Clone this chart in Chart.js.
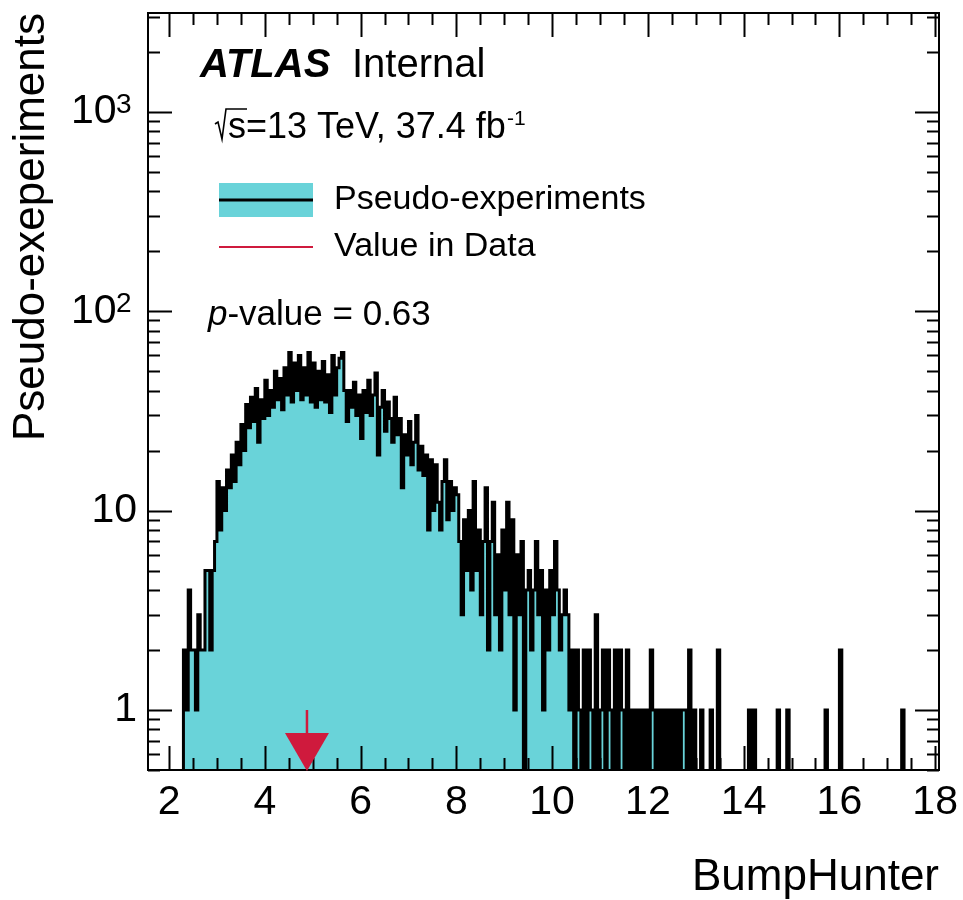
<!DOCTYPE html>
<html>
<head>
<meta charset="utf-8">
<script src="https://cdn.jsdelivr.net/npm/chart.js@4.4.1/dist/chart.umd.min.js"></script>
<style>
  body { margin: 0; background: #fff; }
  #wrap { width: 963px; height: 900px; }
</style>
</head>
<body>
<div id="wrap"><canvas id="graph" width="963" height="900"></canvas></div>
<script>
// histogram binning (left edge of first bin, bin width)
var binStart = 2.0;
var binWidth = 0.05;

// pseudo-experiment counts per bin, one row per unit of x (2.00 .. 17.95)
var counts = [
  0, 0, 0, 0, 0, 0, 2, 1, 4, 2, 2, 1, 3, 2, 2, 5, 5, 2, 5, 7,
  14, 8, 13, 10, 16, 13, 19, 14, 22, 17, 27, 20, 34, 26, 37, 28, 41, 22, 36, 29,
  45, 30, 40, 33, 50, 36, 46, 32, 52, 38, 62, 35, 55, 40, 60, 36, 52, 38, 62, 35,
  55, 33, 50, 36, 56, 35, 48, 31, 60, 38, 52, 58, 62, 40, 28, 40, 33, 44, 30, 38,
  23, 40, 31, 45, 30, 38, 49, 19, 33, 40, 25, 35, 29, 22, 37, 24, 29, 13, 24, 19,
  28, 17, 22, 30, 16, 21, 15, 19, 8, 18, 10, 17, 11, 8, 14, 18, 9, 14, 10, 13,
  12, 7, 3, 9, 5, 10, 4, 14, 5, 8, 3, 7, 13, 2, 7, 11, 3, 6, 2, 8,
  4, 11, 3, 9, 1, 6, 3, 7, 0, 4, 5, 2, 4, 7, 3, 5, 1, 4, 2, 5,
  3, 7, 4, 2, 3, 4, 3, 1, 2, 0, 2, 1, 0, 2, 0, 2, 1, 0, 3, 0,
  1, 2, 0, 2, 1, 0, 2, 0, 2, 1, 0, 2, 0, 1, 0, 1, 0, 1, 0, 1,
  0, 2, 1, 0, 1, 0, 1, 0, 1, 0, 1, 0, 1, 0, 1, 1, 0, 2, 0, 1,
  0, 0, 1, 0, 0, 0, 1, 0, 0, 2, 0, 0, 0, 0, 0, 0, 0, 0, 0, 0,
  0, 0, 1, 0, 1, 0, 0, 0, 0, 0, 0, 0, 0, 0, 1, 0, 0, 0, 1, 0,
  0, 0, 0, 0, 0, 0, 0, 0, 0, 0, 0, 0, 0, 0, 1, 0, 0, 0, 0, 0,
  2, 0, 0, 0, 0, 0, 0, 0, 0, 0, 0, 0, 0, 0, 0, 0, 0, 0, 0, 0,
  0, 0, 0, 0, 0, 0, 1, 0, 0, 0, 0, 0, 0, 0, 0, 0, 0, 0, 0, 0
];

var dataValue = [4.88];   // BumpHunter value observed in data
var pValue = ['0.63'];

var xTickLabels = [2, 4, 6, 8, 10, 12, 14, 16, 18];
var yTickValues = [1, 10, 100, 1000];
var yTickText = ['1', '10', '10\u2002', '10\u2002'];
var yTickExp = ['', '', '2', '3'];

var cyan = '#69d3d9';
var red = '#cf1a3d';
var FONT = '"Liberation Sans", Arial, Helvetica, sans-serif';

Chart.defaults.font.family = FONT;
Chart.defaults.color = '#000';

// empty bins sit below the log axis, so the outline drops out of the frame there
var points = counts.map(function (c, i) {
  return { x: binStart + i * binWidth, y: c > 0 ? c : 0.01 };
});
points.push({ x: binStart + counts.length * binWidth, y: 0.01 });

// ROOT style frame, inward ticks on four sides, arrow and texts
var atlasDecor = {
  id: 'atlasDecor',
  afterDatasetsDraw: function (chart) {
    var ctx = chart.ctx, a = chart.chartArea;
    var xs = chart.scales.x, ys = chart.scales.y;
    ctx.save();
    ctx.strokeStyle = '#000';
    ctx.lineWidth = 2;
    ctx.beginPath();
    xs.ticks.forEach(function (t) {
      var px = Math.round(xs.getPixelForValue(t.value)) + 0.5;
      var len = (t.value % 2 === 0) ? 24 : 12;
      ctx.moveTo(px, a.bottom); ctx.lineTo(px, a.bottom - len);
      ctx.moveTo(px, a.top); ctx.lineTo(px, a.top + len);
    });
    ys.ticks.forEach(function (t) {
      var py = Math.round(ys.getPixelForValue(t.value)) + 0.5;
      var len = yTickValues.indexOf(t.value) >= 0 ? 24 : 12;
      ctx.moveTo(a.left, py); ctx.lineTo(a.left + len, py);
      ctx.moveTo(a.right, py); ctx.lineTo(a.right - len, py);
    });
    ctx.stroke();
    ctx.strokeRect(a.left, a.top, a.right - a.left, a.bottom - a.top);

    // exponents of the y tick labels
    ctx.fillStyle = '#000';
    ctx.font = '28px ' + FONT;
    ctx.textAlign = 'left';
    ctx.textBaseline = 'alphabetic';
    yTickValues.forEach(function (v, i) {
      if (yTickExp[i]) ctx.fillText(yTickExp[i], a.left - 32, ys.getPixelForValue(v) + 1);
    });

    // arrow at the value in data
    var ax = xs.getPixelForValue(dataValue[0]);
    var ay = ys.getPixelForValue(1);
    var tip = a.bottom + 1;
    ctx.strokeStyle = red;
    ctx.fillStyle = red;
    ctx.lineWidth = 2.5;
    ctx.beginPath();
    ctx.moveTo(ax, ay); ctx.lineTo(ax, tip - 37);
    ctx.stroke();
    ctx.beginPath();
    ctx.moveTo(ax - 22, tip - 38);
    ctx.lineTo(ax + 22, tip - 38);
    ctx.lineTo(ax, tip);
    ctx.closePath();
    ctx.fill();
    ctx.restore();
  },
  afterDraw: function (chart) {
    var ctx = chart.ctx;
    ctx.save();
    ctx.fillStyle = '#000';
    ctx.textBaseline = 'alphabetic';
    ctx.textAlign = 'left';

    ctx.font = 'italic bold 40px ' + FONT;
    ctx.fillText('ATLAS', 200, 77);
    ctx.font = '40px ' + FONT;
    ctx.fillText('Internal', 352, 77);

    // sqrt(s)=13 TeV, 37.4 fb^-1
    ctx.strokeStyle = '#000';
    ctx.lineWidth = 1.6;
    ctx.beginPath();
    ctx.moveTo(215, 124);
    ctx.lineTo(218, 122);
    ctx.lineTo(222, 139);
    ctx.lineTo(226, 109);
    ctx.lineTo(247, 109);
    ctx.stroke();
    ctx.font = '36px ' + FONT;
    ctx.fillText('s', 228, 138);
    var sx = 228 + ctx.measureText('s').width;
    var rest = '=13 TeV, 37.4 fb';
    ctx.fillText(rest, sx, 138);
    var ex = sx + ctx.measureText(rest).width + 1;
    ctx.font = '21px ' + FONT;
    ctx.fillText('-1', ex, 125);

    // legend
    ctx.fillStyle = cyan;
    ctx.fillRect(219, 183, 94, 34);
    ctx.strokeStyle = '#000';
    ctx.lineWidth = 3;
    ctx.beginPath();
    ctx.moveTo(219, 200); ctx.lineTo(313, 200);
    ctx.stroke();
    ctx.strokeStyle = red;
    ctx.lineWidth = 2;
    ctx.beginPath();
    ctx.moveTo(219, 247); ctx.lineTo(313, 247);
    ctx.stroke();
    ctx.fillStyle = '#000';
    ctx.font = '34px ' + FONT;
    ctx.fillText('Pseudo-experiments', 334, 209);
    ctx.fillText('Value in Data', 334, 256);

    // p-value
    ctx.font = 'italic 35px ' + FONT;
    ctx.fillText('p', 208, 325);
    var px = 208 + ctx.measureText('p').width;
    ctx.font = '35px ' + FONT;
    ctx.fillText('-value = ' + pValue[0], px, 325);
    ctx.restore();
  }
};

var ctx = document.getElementById('graph');

var config = {
  type: 'line',
  data: {
    datasets: [{
      label: 'Pseudo-experiments',
      data: points,
      stepped: true,
      fill: 'start',
      backgroundColor: cyan,
      borderColor: '#000',
      borderWidth: 3,
      pointRadius: 0,
      pointHoverRadius: 0
    }]
  },
  options: {
    responsive: false,
    animation: false,
    devicePixelRatio: 1,
    layout: { padding: { top: 13, right: 24, left: 0, bottom: 0 } },
    plugins: {
      legend: { display: false },
      tooltip: { enabled: false }
    },
    scales: {
      x: {
        type: 'linear',
        min: 1.56,
        max: 18.08,
        grid: { display: false },
        border: { display: false },
        afterBuildTicks: function (s) {
          var t = [];
          for (var i = 4; i <= 36; i++) t.push({ value: i / 2 });
          s.ticks = t;
        },
        ticks: {
          autoSkip: false,
          maxRotation: 0,
          padding: 0,
          font: { size: 41 },
          callback: function (v) {
            return xTickLabels.indexOf(v) >= 0 ? String(v) : '';
          }
        },
        title: {
          display: true,
          text: 'BumpHunter',
          align: 'end',
          font: { size: 44 },
          padding: { top: 0, bottom: -4 }
        },
        afterFit: function (s) {
          s.height = 130;
          s.paddingLeft = 0;
          s.paddingRight = 0;
        }
      },
      y: {
        type: 'logarithmic',
        min: 0.5,
        max: 3130,
        grid: { display: false },
        border: { display: false },
        afterBuildTicks: function (s) {
          var t = [];
          for (var e = -1; e <= 3; e++) {
            for (var m = 1; m <= 9; m++) {
              var v = e < 0 ? m / 10 : m * Math.pow(10, e);
              if (v >= 0.5 && v <= 3130) t.push({ value: v });
            }
          }
          s.ticks = t;
        },
        ticks: {
          autoSkip: false,
          padding: 3,
          font: { size: 41 },
          callback: function (v) {
            var i = yTickValues.indexOf(v);
            return i >= 0 ? yTickText[i] : '';
          }
        },
        title: {
          display: true,
          text: 'Pseudo-exeperiments',
          align: 'end',
          font: { size: 44 },
          padding: { top: 5, bottom: 0 }
        },
        afterFit: function (s) {
          s.width = 148;
          s.paddingTop = 0;
          s.paddingBottom = 0;
        }
      }
    }
  },
  plugins: [atlasDecor]
};

var myHistogram = new Chart(ctx, config);
</script>
</body>
</html>
